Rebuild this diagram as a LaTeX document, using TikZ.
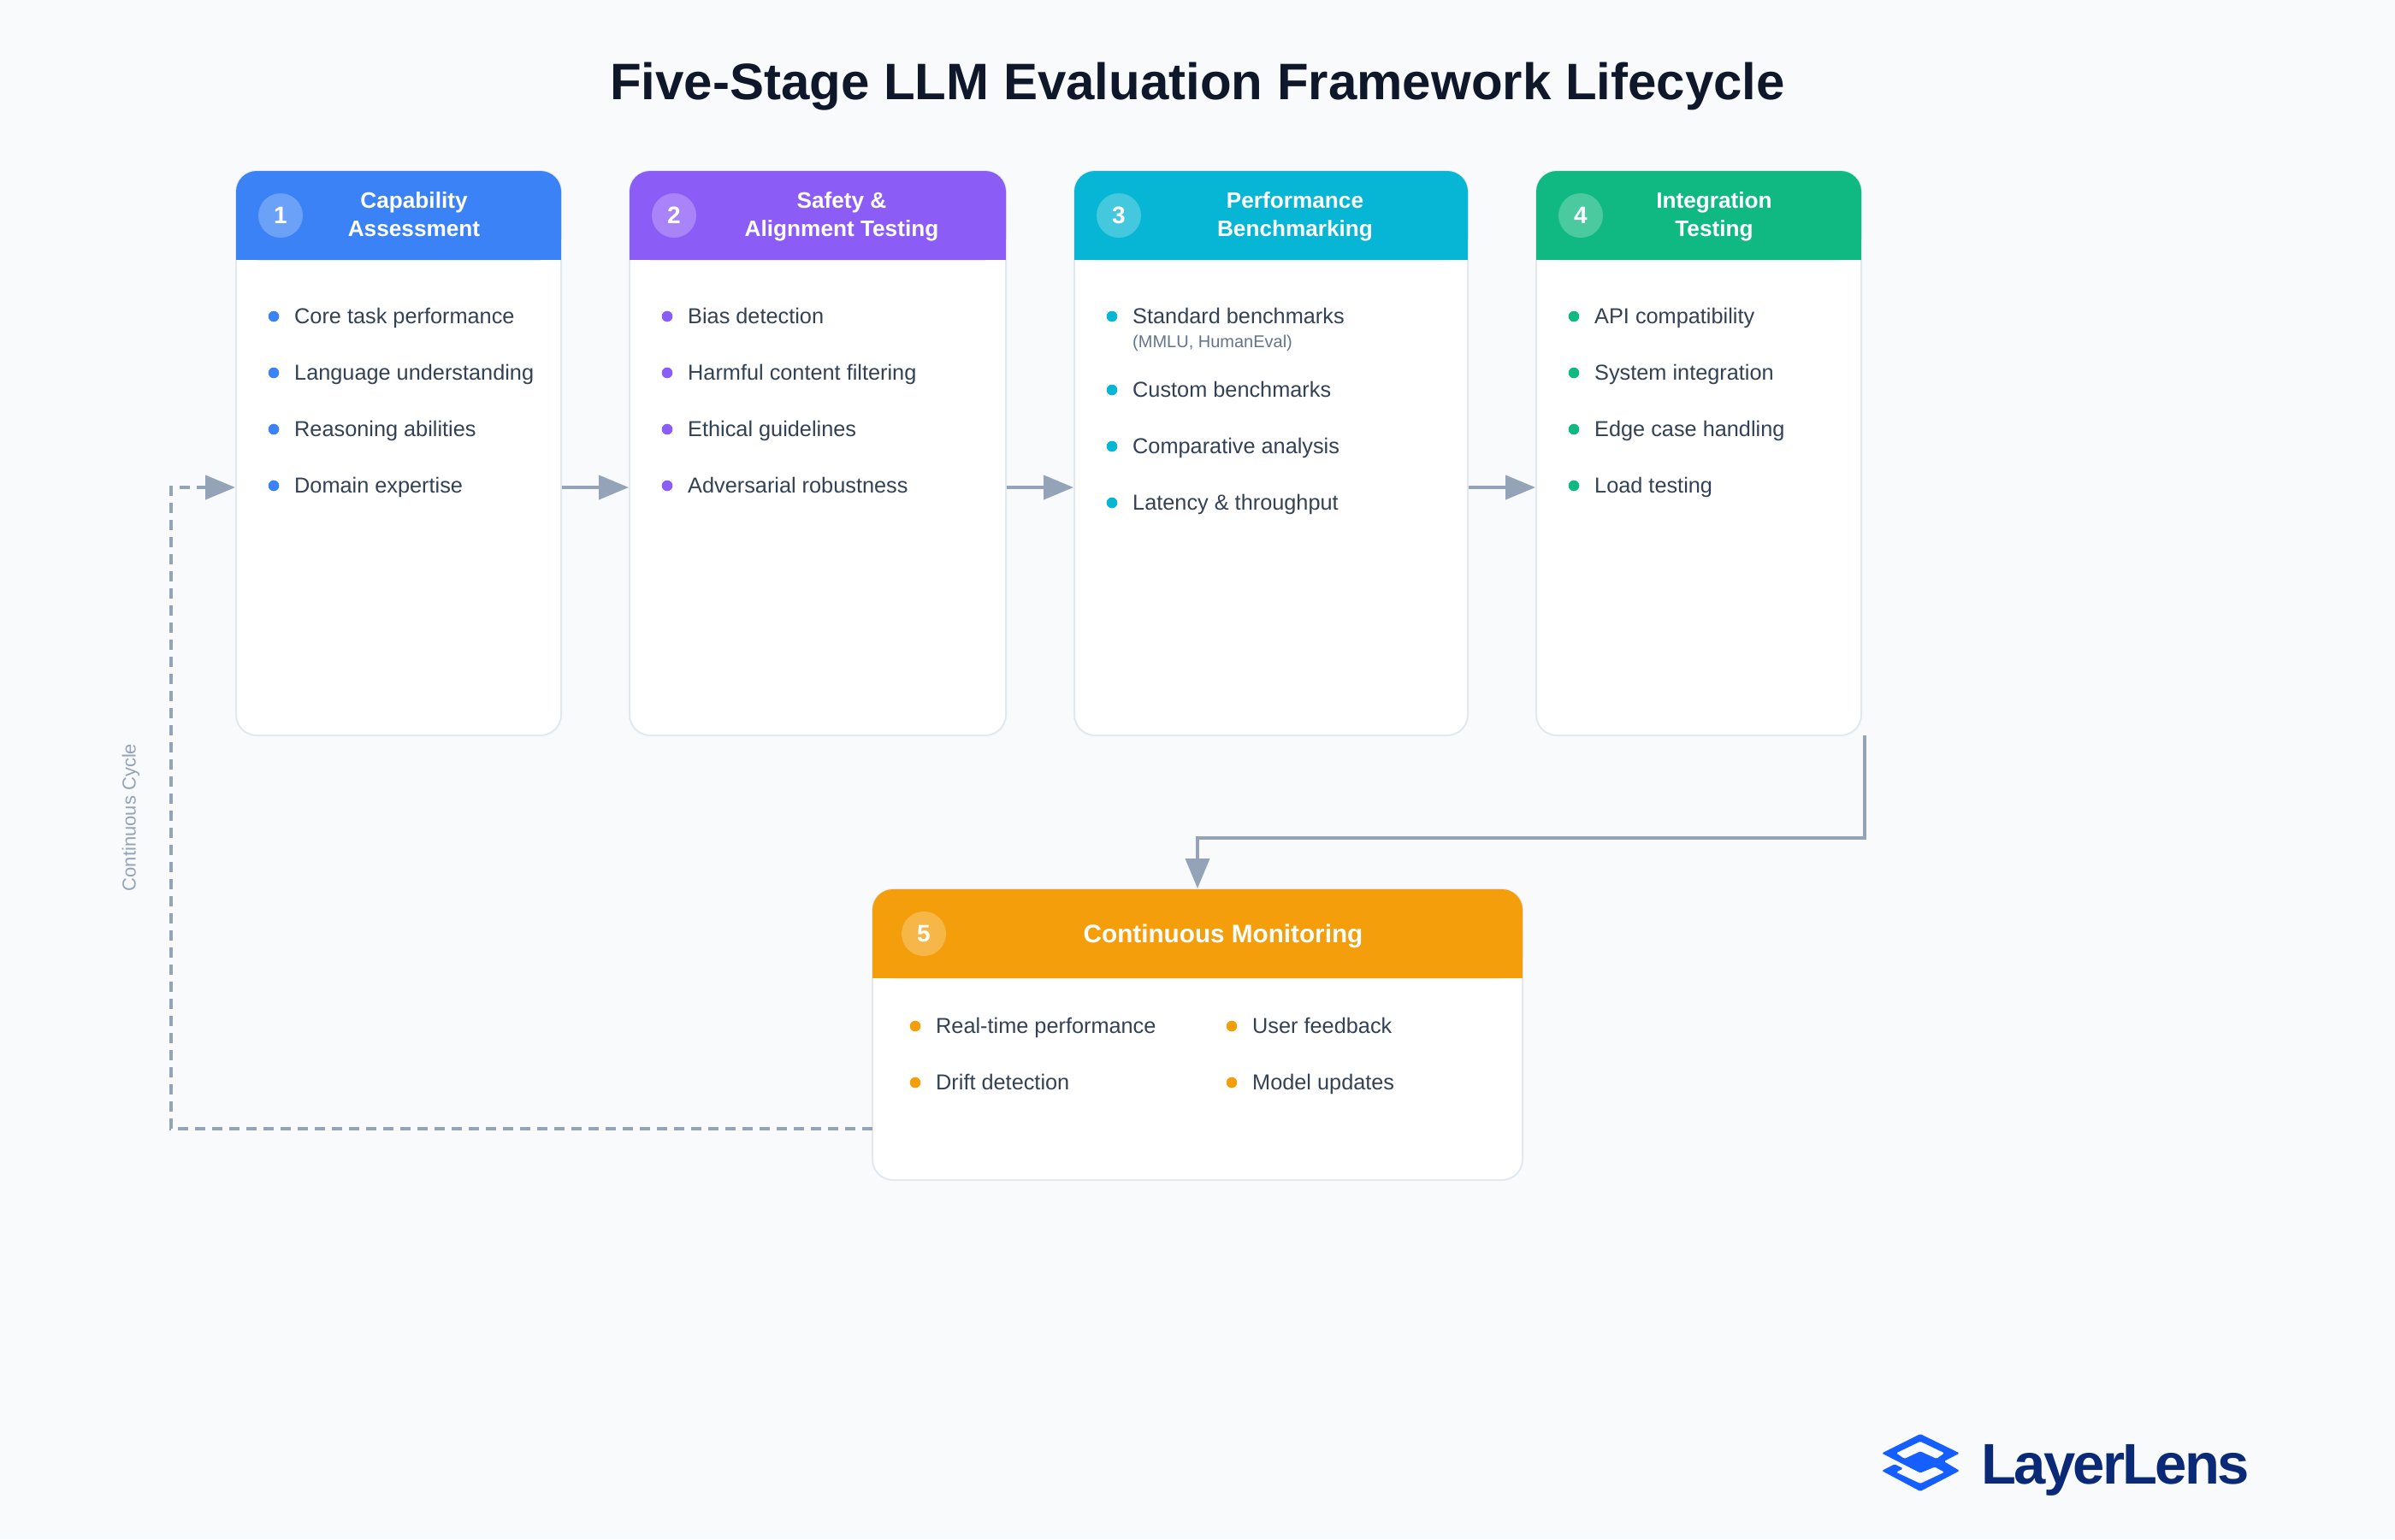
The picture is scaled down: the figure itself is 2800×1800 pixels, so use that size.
\documentclass[tikz,border=0pt]{standalone}
\usepackage{fontspec}
\setmainfont{Liberation Sans}
\newfontfamily\logofont[LetterSpace=-4]{Liberation Sans}
\usetikzlibrary{arrows.meta,calc}
\definecolor{bgc}{HTML}{F8FAFC}
\definecolor{titlec}{HTML}{0F172A}
\definecolor{borderc}{HTML}{E2E8F0}
\definecolor{itemc}{HTML}{334155}
\definecolor{subc}{HTML}{64748B}
\definecolor{flowc}{HTML}{94A3B8}
\definecolor{cA}{HTML}{3B82F6}
\definecolor{cB}{HTML}{8B5CF6}
\definecolor{cC}{HTML}{06B6D4}
\definecolor{cD}{HTML}{10B981}
\definecolor{cE}{HTML}{F59E0B}
\definecolor{logoblue}{HTML}{155EFF}
\definecolor{logonavy}{HTML}{0A2A78}
\newcommand{\fs}[1]{\fontsize{#1}{#1}\selectfont}
\newcommand{\hs}{\rule[-8pt]{0pt}{33pt}}
\tikzset{
  x=1pt,y=-1pt,
  cardbox/.style={draw=borderc,line width=2pt,fill=white,rounded corners=24pt,inner sep=0pt,outer sep=0pt,anchor=north west},
  numdisc/.style={circle,fill=white,fill opacity=.25,text opacity=1,text=white,minimum size=52pt,inner sep=0pt,font=\fs{28}\bfseries},
  headtext/.style={text=white,font=\bfseries\fontsize{26.2}{33}\selectfont,align=center,inner sep=0pt},
  item/.style={text=itemc,font=\fs{25.3},anchor=base west,inner sep=0pt},
  subitem/.style={text=subc,font=\fs{20},anchor=base west,inner sep=0pt},
  flow/.style={draw=flowc,line width=4pt,-{Triangle[length=35pt,width=28pt]},shorten >=1pt,shorten <=1pt},
  backflow/.style={flow,dash pattern=on 12pt off 8pt},
}
% #1 name, #2 left, #3 right, #4 bottom, #5 colour, #6 header bottom
\newcommand{\card}[6]{%
  \node[cardbox,minimum width=#3pt-#2pt,minimum height=#4pt-#6pt+104pt] (#1) at (#2,#6-104) {};
  \fill[#5,rounded corners=24pt] (#2,#6) -- (#2,#6-104) -- (#3,#6-104) -- (#3,#6) -- cycle;
  \fill[#5] (#2,#6-30) rectangle (#3,#6);
}
% #1 name, #2 dot x, #3 centre y, #4 colour, #5 text
\newcommand{\bul}[5]{%
  \fill[#4] (#2,#3) circle[radius=6.3];
  \node[item] (#1) at (#2+24,#3+8) {#5};
}
\begin{document}
\begin{tikzpicture}
\useasboundingbox (0,0) rectangle (2800,1800);
\fill[bgc] (0,0) rectangle (2800,1800);
\node[text=titlec,font=\fs{60}\bfseries,anchor=base,inner sep=0pt] (title) at (1400,116) {Five-Stage LLM Evaluation Framework Lifecycle};

\coordinate (row) at (0,570);
\coordinate (drop) at (0,980);
\coordinate (back) at (0,1320);
\coordinate (leftrail) at (200,0);

% cards
\card{c1}{276}{656}{860}{cA}{304}
\card{c2}{736}{1176}{860}{cB}{304}
\card{c3}{1256}{1716}{860}{cC}{304}
\card{c4}{1796}{2176}{860}{cD}{304}
\card{c5}{1020}{1780}{1380}{cE}{1144}

% numbers
\node[numdisc] (n1) at (328,252) {1};
\node[numdisc] (n2) at (788,252) {2};
\node[numdisc] (n3) at (1308,252) {3};
\node[numdisc] (n4) at (1848,252) {4};
\node[numdisc] (n5) at (1080,1092) {5};

% headers
\node[headtext] (h1) at (484,251.5) {\hs Capability\\\hs Assessment};
\node[headtext] (h2) at (984,251.5) {\hs Safety \&\\\hs Alignment Testing};
\node[headtext] (h3) at (1514,251.5) {\hs Performance\\\hs Benchmarking};
\node[headtext] (h4) at (2004,251.5) {\hs Integration\\\hs Testing};
\node[text=white,font=\fs{29.7}\bfseries,anchor=base,inner sep=0pt] (h5) at (1430,1102) {Continuous Monitoring};

% items
\bul{a1}{320}{370}{cA}{Core task performance}
\bul{a2}{320}{436}{cA}{Language understanding}
\bul{a3}{320}{502}{cA}{Reasoning abilities}
\bul{a4}{320}{568}{cA}{Domain expertise}
\bul{b1}{780}{370}{cB}{Bias detection}
\bul{b2}{780}{436}{cB}{Harmful content filtering}
\bul{b3}{780}{502}{cB}{Ethical guidelines}
\bul{b4}{780}{568}{cB}{Adversarial robustness}
\bul{d1}{1300}{370}{cC}{Standard benchmarks}
\node[subitem] (d1s) at (1324,406) {(MMLU, HumanEval)};
\bul{d2}{1300}{456}{cC}{Custom benchmarks}
\bul{d3}{1300}{522}{cC}{Comparative analysis}
\bul{d4}{1300}{588}{cC}{Latency \& throughput}
\bul{e1}{1840}{370}{cD}{API compatibility}
\bul{e2}{1840}{436}{cD}{System integration}
\bul{e3}{1840}{502}{cD}{Edge case handling}
\bul{e4}{1840}{568}{cD}{Load testing}
\bul{f1}{1070}{1200}{cE}{Real-time performance}
\bul{f2}{1070}{1266}{cE}{Drift detection}
\bul{f3}{1440}{1200}{cE}{User feedback}
\bul{f4}{1440}{1266}{cE}{Model updates}

% connectors
\coordinate (c4out) at ($(c4.south east)+(4,0)$);
\draw[flow] (c1.east |- row) -- (c2.west |- row);
\draw[flow] (c2.east |- row) -- (c3.west |- row);
\draw[flow] (c3.east |- row) -- (c4.west |- row);
\draw[flow,shorten <=0pt] (c4out) -- (c4out |- drop) -- (c5.north |- drop) -- (c5.north);
\draw[backflow,shorten <=0pt] (c5.west |- back) -- (leftrail |- back) -- (leftrail |- row) -- (c1.west |- row);
\node[text=flowc,font=\fs{22},rotate=90,inner sep=0pt] (cyc) at (153,956) {Continuous Cycle};

% logo
\fill[logoblue,even odd rule,rounded corners=1.5pt]
  (2245,1677) -- (2291,1699.5) -- (2272.5,1709) -- (2291,1720) -- (2245,1744) -- (2200,1720)
  -- (2215,1712.3) -- (2225,1717.3) -- (2216.7,1721.7) -- (2245,1735) -- (2273.3,1721.7)
  -- (2262,1715.5) -- (2245,1722.5) -- (2200,1699.5) -- cycle
  (2245,1685.7) -- (2273.3,1699.3) -- (2264,1706) -- (2245,1697.3) -- (2226.5,1706) -- (2216.7,1699.3) -- cycle;
\node[text=logonavy,font=\logofont\fs{67}\bfseries,anchor=base west,inner sep=0pt] (logo) at (2316,1735) {LayerLens};
\end{tikzpicture}
\end{document}
